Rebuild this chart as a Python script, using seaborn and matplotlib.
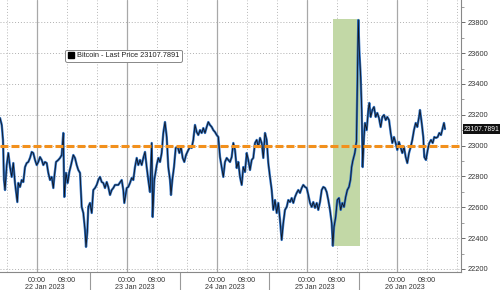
import matplotlib
matplotlib.use("Agg")
import matplotlib.pyplot as plt
import matplotlib.dates as mdates
from matplotlib.lines import Line2D
import matplotlib.transforms as mtransforms
import numpy as np
import pandas as pd
import seaborn as sns

# ---------------- data ----------------
BASE_DAY = "2023-01-22 00:00"
# hours relative to 22 Jan 2023 00:00
HOURS = [-9.87, -9.4, -9.07, -8.8, -8.53, -8.08, -7.65, -7.2, -6.75, -6.32, -5.87, -5.25, -4.99,
         -4.53, -4.08, -3.65, -3.2, -2.75, -2.32, -1.87, -1.41, -0.99, -0.53, -0.08, 0.35, 0.8,
         1.25, 1.68, 2.13, 2.59, 3.01, 3.47, 3.92, 4.35, 4.61, 5.07, 5.68, 6.13, 6.59, 7.01, 7.28,
         7.73, 8.19, 8.61, 9.07, 9.68, 10.13, 10.59, 11.01, 11.47, 11.92, 12.35, 12.8, 13.07,
         13.41, 13.68, 14.13, 14.59, 15.01, 15.47, 15.92, 16.35, 16.8, 17.25, 17.68, 18.13, 18.59,
         19.01, 19.47, 19.92, 20.35, 20.8, 21.68, 22.59, 23.01, 23.28, 23.92, 24.35, 24.8, 25.25,
         25.68, 26.13, 26.59, 27.01, 27.47, 27.92, 28.35, 28.8, 29.25, 29.68, 30.13, 30.59, 30.85,
         31.28, 31.92, 32.35, 32.8, 33.25, 33.68, 34.13, 34.59, 35.01, 35.47, 35.73, 36.08, 36.53,
         36.99, 37.52, 37.95, 38.4, 38.85, 39.28, 39.73, 40.35, 40.8, 41.25, 41.68, 42.13, 42.59,
         43.01, 43.47, 43.92, 44.35, 44.8, 45.25, 45.68, 46.13, 46.59, 47.01, 47.47, 47.92, 48.35,
         48.8, 49.25, 49.68, 50.13, 50.59, 51.01, 51.47, 51.92, 52.35, 52.8, 53.25, 53.68, 54.13,
         54.59, 55.01, 55.47, 55.92, 56.35, 56.8, 57.25, 57.68, 58.13, 58.59, 59.01, 59.47, 59.92,
         60.35, 60.8, 61.25, 61.68, 62.13, 62.59, 63.01, 63.47, 63.92, 64.35, 64.8, 65.25, 65.68,
         66.13, 66.59, 67.01, 67.47, 67.92, 68.35, 68.8, 69.25, 69.68, 70.13, 70.59, 71.01, 71.47,
         71.92, 72.35, 72.8, 73.25, 73.68, 74.13, 74.59, 75.01, 75.47, 75.92, 76.35, 76.8, 77.25,
         77.68, 78.13, 78.59, 78.9, 79.2, 79.65, 80.08, 80.53, 80.99, 81.41, 81.87, 82.32, 82.75,
         83.2, 83.6, 83.9, 84.2, 84.75, 85.2, 85.68, 85.95, 86.32, 86.59, 86.85, 87.2, 87.47,
         87.92, 88.35, 88.61, 88.99, 89.41, 89.87, 90.32, 90.75, 91.2, 91.65, 92.08, 92.53, 92.99,
         93.41, 93.87, 94.32, 94.75, 95.2, 95.65, 96.08, 96.53, 96.99, 97.41, 97.87, 98.32, 98.75,
         99.2, 99.65, 100.08, 100.53, 100.99, 101.41, 101.87, 102.13, 102.59, 103.01, 103.28,
         103.73, 104.19, 104.61, 105.07, 105.52, 105.95, 106.4, 106.85, 107.28, 107.73, 108.19,
         108.53, 108.8]
PRICES = [23179, 23134, 23037, 22777, 22712, 22874, 22952, 22861, 22797, 22887, 22758, 22634, 22758,
          22732, 22777, 22764, 22861, 22887, 22894, 22920, 22959, 22952, 22907, 22874, 22894, 22926,
          22907, 22874, 22894, 22887, 22823, 22777, 22797, 22725, 22797, 22894, 22907, 22920, 22939,
          23082, 22667, 22823, 22758, 22829, 22874, 22939, 22920, 22874, 22842, 22823, 22602, 22563,
          22453, 22343, 22440, 22602, 22628, 22563, 22712, 22725, 22745, 22777, 22797, 22764, 22758,
          22725, 22764, 22732, 22680, 22712, 22725, 22745, 22745, 22777, 22712, 22628, 22725, 22732,
          22758, 22790, 22777, 22861, 22920, 22874, 22907, 22874, 22920, 22959, 22861, 22777, 22699,
          23017, 22537, 22777, 22874, 22920, 22894, 22952, 23082, 23153, 23056, 22861, 22777, 22680,
          22777, 22861, 22985, 22991, 22952, 22991, 22920, 22894, 22939, 22972, 22991, 22985, 23037,
          23134, 23088, 23069, 23101, 23082, 23114, 23082, 23121, 23153, 23134, 23121, 23101, 23088,
          23069, 23056, 22926, 22861, 22797, 22894, 22920, 22907, 22894, 22926, 23017, 22972, 22855,
          22894, 22797, 22745, 22861, 22829, 22952, 22907, 22842, 22907, 22920, 23017, 23037, 22991,
          23050, 23017, 22920, 23082, 23037, 22887, 22797, 22712, 22583, 22647, 22563, 22628, 22518,
          22388, 22498, 22583, 22602, 22647, 22634, 22660, 22628, 22667, 22693, 22712, 22693, 22725,
          22745, 22732, 22725, 22680, 22628, 22602, 22634, 22596, 22628, 22583, 22634, 22712, 22732,
          22725, 22699, 22647, 22583, 22498, 22350, 22472, 22537, 22647, 22660, 22583, 22628, 22602,
          22667, 22712, 22732, 22780, 22860, 22900, 22952, 23030, 23815, 23620, 23445, 23231, 22861,
          23056, 23147, 23101, 23231, 23277, 23186, 23231, 23251, 23186, 23212, 23179, 23121, 23186,
          23199, 23166, 23186, 23166, 23082, 23017, 23056, 23017, 22972, 23024, 22985, 22952, 22991,
          22926, 22887, 22952, 22991, 23037, 23101, 23147, 23121, 23186, 23231, 23147, 23056, 22926,
          22907, 22972, 23017, 23037, 23017, 23056, 23050, 23056, 23082, 23069, 23114, 23147, 23108]
LAST_PRICE = 23107.7891
REF_LEVEL = 23000
SPAN_HOURS = [78.9, 86.1]
SPAN_PRICES = [22350, 23820]
SERIES_LABEL = "Bitcoin - Last Price 23107.7891"
DAY_LABELS = ["22 Jan 2023", "23 Jan 2023", "24 Jan 2023", "25 Jan 2023", "26 Jan 2023"]

# ---------------- build frame ----------------
base = pd.Timestamp(BASE_DAY)
df = pd.DataFrame({"time": base + pd.to_timedelta(HOURS, unit="h"), "price": PRICES})

sns.set_theme(style="white")
plt.rcParams["font.family"] = ["Liberation Sans", "DejaVu Sans"]

fig = plt.figure(figsize=(5.0, 2.9), dpi=100)
ax = fig.add_axes([0.0, 18 / 290, 461 / 500, 272 / 290])

# green highlight (behind the line)
span_t = base + pd.to_timedelta(SPAN_HOURS, unit="h")
ax.fill_between(span_t, SPAN_PRICES[0], SPAN_PRICES[1], color="#c2d8a6",
                linewidth=0, zorder=2)

# line: blue underlay + dark core
sns.lineplot(data=df, x="time", y="price", ax=ax, color="#2f72c4", linewidth=1.7, zorder=3)
sns.lineplot(data=df, x="time", y="price", ax=ax, color="#10131c", linewidth=0.6, zorder=4)

# orange reference level
ax.axhline(REF_LEVEL, color="#f2901c", linewidth=2.2, dashes=(2.6, 1.0), zorder=6)

# limits
ax.set_xlim(base + pd.Timedelta(hours=-9.87), base + pd.Timedelta(hours=113.07))
ax.set_ylim(22180, 23945)

# y axis on right
ax.yaxis.tick_right()
ax.set_yticks(np.arange(22200, 23801, 200))
ax.yaxis.set_minor_locator(matplotlib.ticker.MultipleLocator(100))
ax.tick_params(axis="y", which="major", direction="out", length=3, width=0.6, color="#555555",
               labelsize=5.4, labelcolor="#333333", pad=2, right=True, left=False)
ax.tick_params(axis="y", which="minor", direction="out", length=2, width=0.5, color="#777777",
               right=True, left=False)
ax.grid(axis="y", which="major", color="#b0b0b0", linestyle=(0, (1, 2)), linewidth=0.7)

# x axis
ax.xaxis.set_major_locator(mdates.HourLocator(byhour=[0, 8]))
ax.xaxis.set_major_formatter(mdates.DateFormatter("%H:%M"))
ax.xaxis.set_minor_locator(mdates.HourLocator(byhour=range(0, 24, 4)))
ax.tick_params(axis="x", which="major", direction="out", length=2, width=0.6, color="#555555",
               labelsize=5.2, labelcolor="#333333", pad=1.5)
ax.tick_params(axis="x", which="minor", direction="out", length=1.5, width=0.5, color="#777777")

days = pd.date_range(base, periods=5, freq="D")
for d in days:
    ax.axvline(d, color="#a8a8a8", linewidth=0.9, zorder=1)
    for hh in (8, 16):
        ax.axvline(d + pd.Timedelta(hours=hh), color="#b8b8b8", linewidth=0.7,
                   linestyle=(0, (1, 2)), zorder=1)
ax.axvline(base - pd.Timedelta(hours=8), color="#b8b8b8", linewidth=0.7,
           linestyle=(0, (1, 2)), zorder=1)

trans = mtransforms.blended_transform_factory(ax.transData, ax.transAxes)
for d, lab in zip(days, DAY_LABELS):
    ax.text(d + pd.Timedelta(hours=2), -0.058, lab, transform=trans, ha="center", va="center",
            fontsize=5.2, color="#333333")
for d in days[:4]:
    ax.axvline(d + pd.Timedelta(hours=14), ymin=-0.07, ymax=0, color="#999999",
               linewidth=0.8, clip_on=False)

for side in ("left", "top"):
    ax.spines[side].set_visible(False)
for side in ("right", "bottom"):
    ax.spines[side].set_color("#888888")
    ax.spines[side].set_linewidth(0.8)

ax.set_xlabel("")
ax.set_ylabel("")

# last price tag
ax.annotate(f"{LAST_PRICE:.4f}", xy=(1.0, LAST_PRICE), xycoords=("axes fraction", "data"),
            xytext=(2, 0), textcoords="offset points", ha="left", va="center",
            fontsize=4.9, color="white", annotation_clip=False,
            bbox=dict(boxstyle="square,pad=0.15", facecolor="#111111", edgecolor="none"))

# legend
handle = Line2D([], [], marker="s", color="#000000", linestyle="none", markersize=4)
leg = ax.legend([handle], [SERIES_LABEL], loc="center", bbox_to_anchor=(0.268, 0.795),
                fontsize=5.3, frameon=True, fancybox=True, handlelength=0.8,
                handletextpad=0.4, borderpad=0.35, borderaxespad=0)
leg.get_frame().set_edgecolor("#888888")
leg.get_frame().set_linewidth(0.7)
leg.get_frame().set_facecolor("white")
leg.get_frame().set_alpha(1)
for t in leg.get_texts():
    t.set_color("#222222")

fig.savefig("out.png", dpi=100)
